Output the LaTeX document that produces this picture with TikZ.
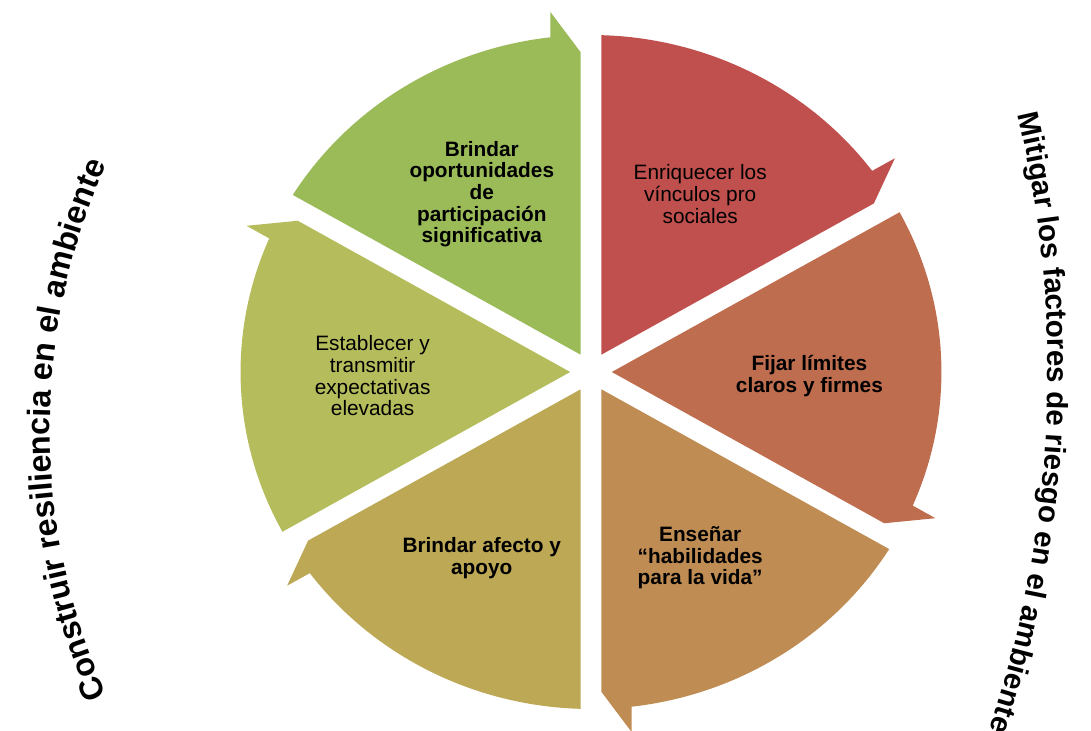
\documentclass[tikz,border=0pt]{standalone}
\usepackage{fontspec}
\setmainfont{Liberation Sans}
\usetikzlibrary{decorations.text}

\definecolor{segRed}{RGB}{192,80,77}
\definecolor{segOrange}{RGB}{190,109,79}
\definecolor{segBrown}{RGB}{191,140,83}
\definecolor{segOlive}{RGB}{189,168,86}
\definecolor{segLime}{RGB}{181,188,92}
\definecolor{segGreen}{RGB}{155,187,89}

\begin{document}
\begin{tikzpicture}[
    x=0.025cm, y=0.025cm,
    lbl/.style={align=center, text=black, yshift=-0.1cm, font=\fontsize{14.8}{15.4}\selectfont},
    lblbold/.style={lbl, font=\fontsize{14.8}{15.4}\selectfont\bfseries},
    curvetext/.style={decorate, decoration={text along path, text={#1}}}
]
    \useasboundingbox (-591,-358) rectangle (500,372);
    \clip (-591,-358) rectangle (500,372);

    % Cycle of six arrow segments
    \begin{scope}[xscale=1.04]
        \foreach \s/\col in {90/segRed, 30/segOrange, -30/segBrown, -90/segOlive, -150/segLime, 150/segGreen}{
            \pgfmathsetmacro{\e}{\s-60}
            \fill[\col] (\s-30:20) -- (\s-1.7:337)
                arc[start angle=\s-1.7, end angle=\e+6.65, radius=337]
                -- (\e+6.18:362) -- (\e+1.79:320) -- cycle;
        }

        % Segment labels
        \node[lbl] (vinculos) at (60:210) {Enriquecer los\\v\'{\i}nculos pro\\sociales};
        \node[lblbold] (limites) at (0:210) {Fijar l\'{\i}mites\\claros y firmes};
        \node[lblbold] (habilidades) at (-60:210) {Ense\~nar\\``habilidades\\para la vida''};
        \node[lblbold] (afecto) at (-120:210) {Brindar afecto y\\apoyo};
        \node[lbl] (expectativas) at (180:210) {Establecer y\\transmitir\\expectativas\\elevadas};
        \node[lblbold] (participacion) at (120:210) {Brindar\\oportunidades\\de\\participaci\'on\\significativa};
    \end{scope}

    % Curved side titles
    \path[curvetext={|\fontsize{23}{23}\selectfont\bfseries|Construir resiliencia en el ambiente},
          decoration={text align=center}]
        (109,-58) ++(205:650) arc[start angle=205, end angle=155, radius=650];
    \path[curvetext={|\fontsize{21}{21}\selectfont\bfseries|Mitigar los factores de riesgo en el ambiente}]
        (-663,0) ++(13.3:1120) arc[start angle=13.3, end angle=-25, radius=1120];
\end{tikzpicture}
\end{document}
